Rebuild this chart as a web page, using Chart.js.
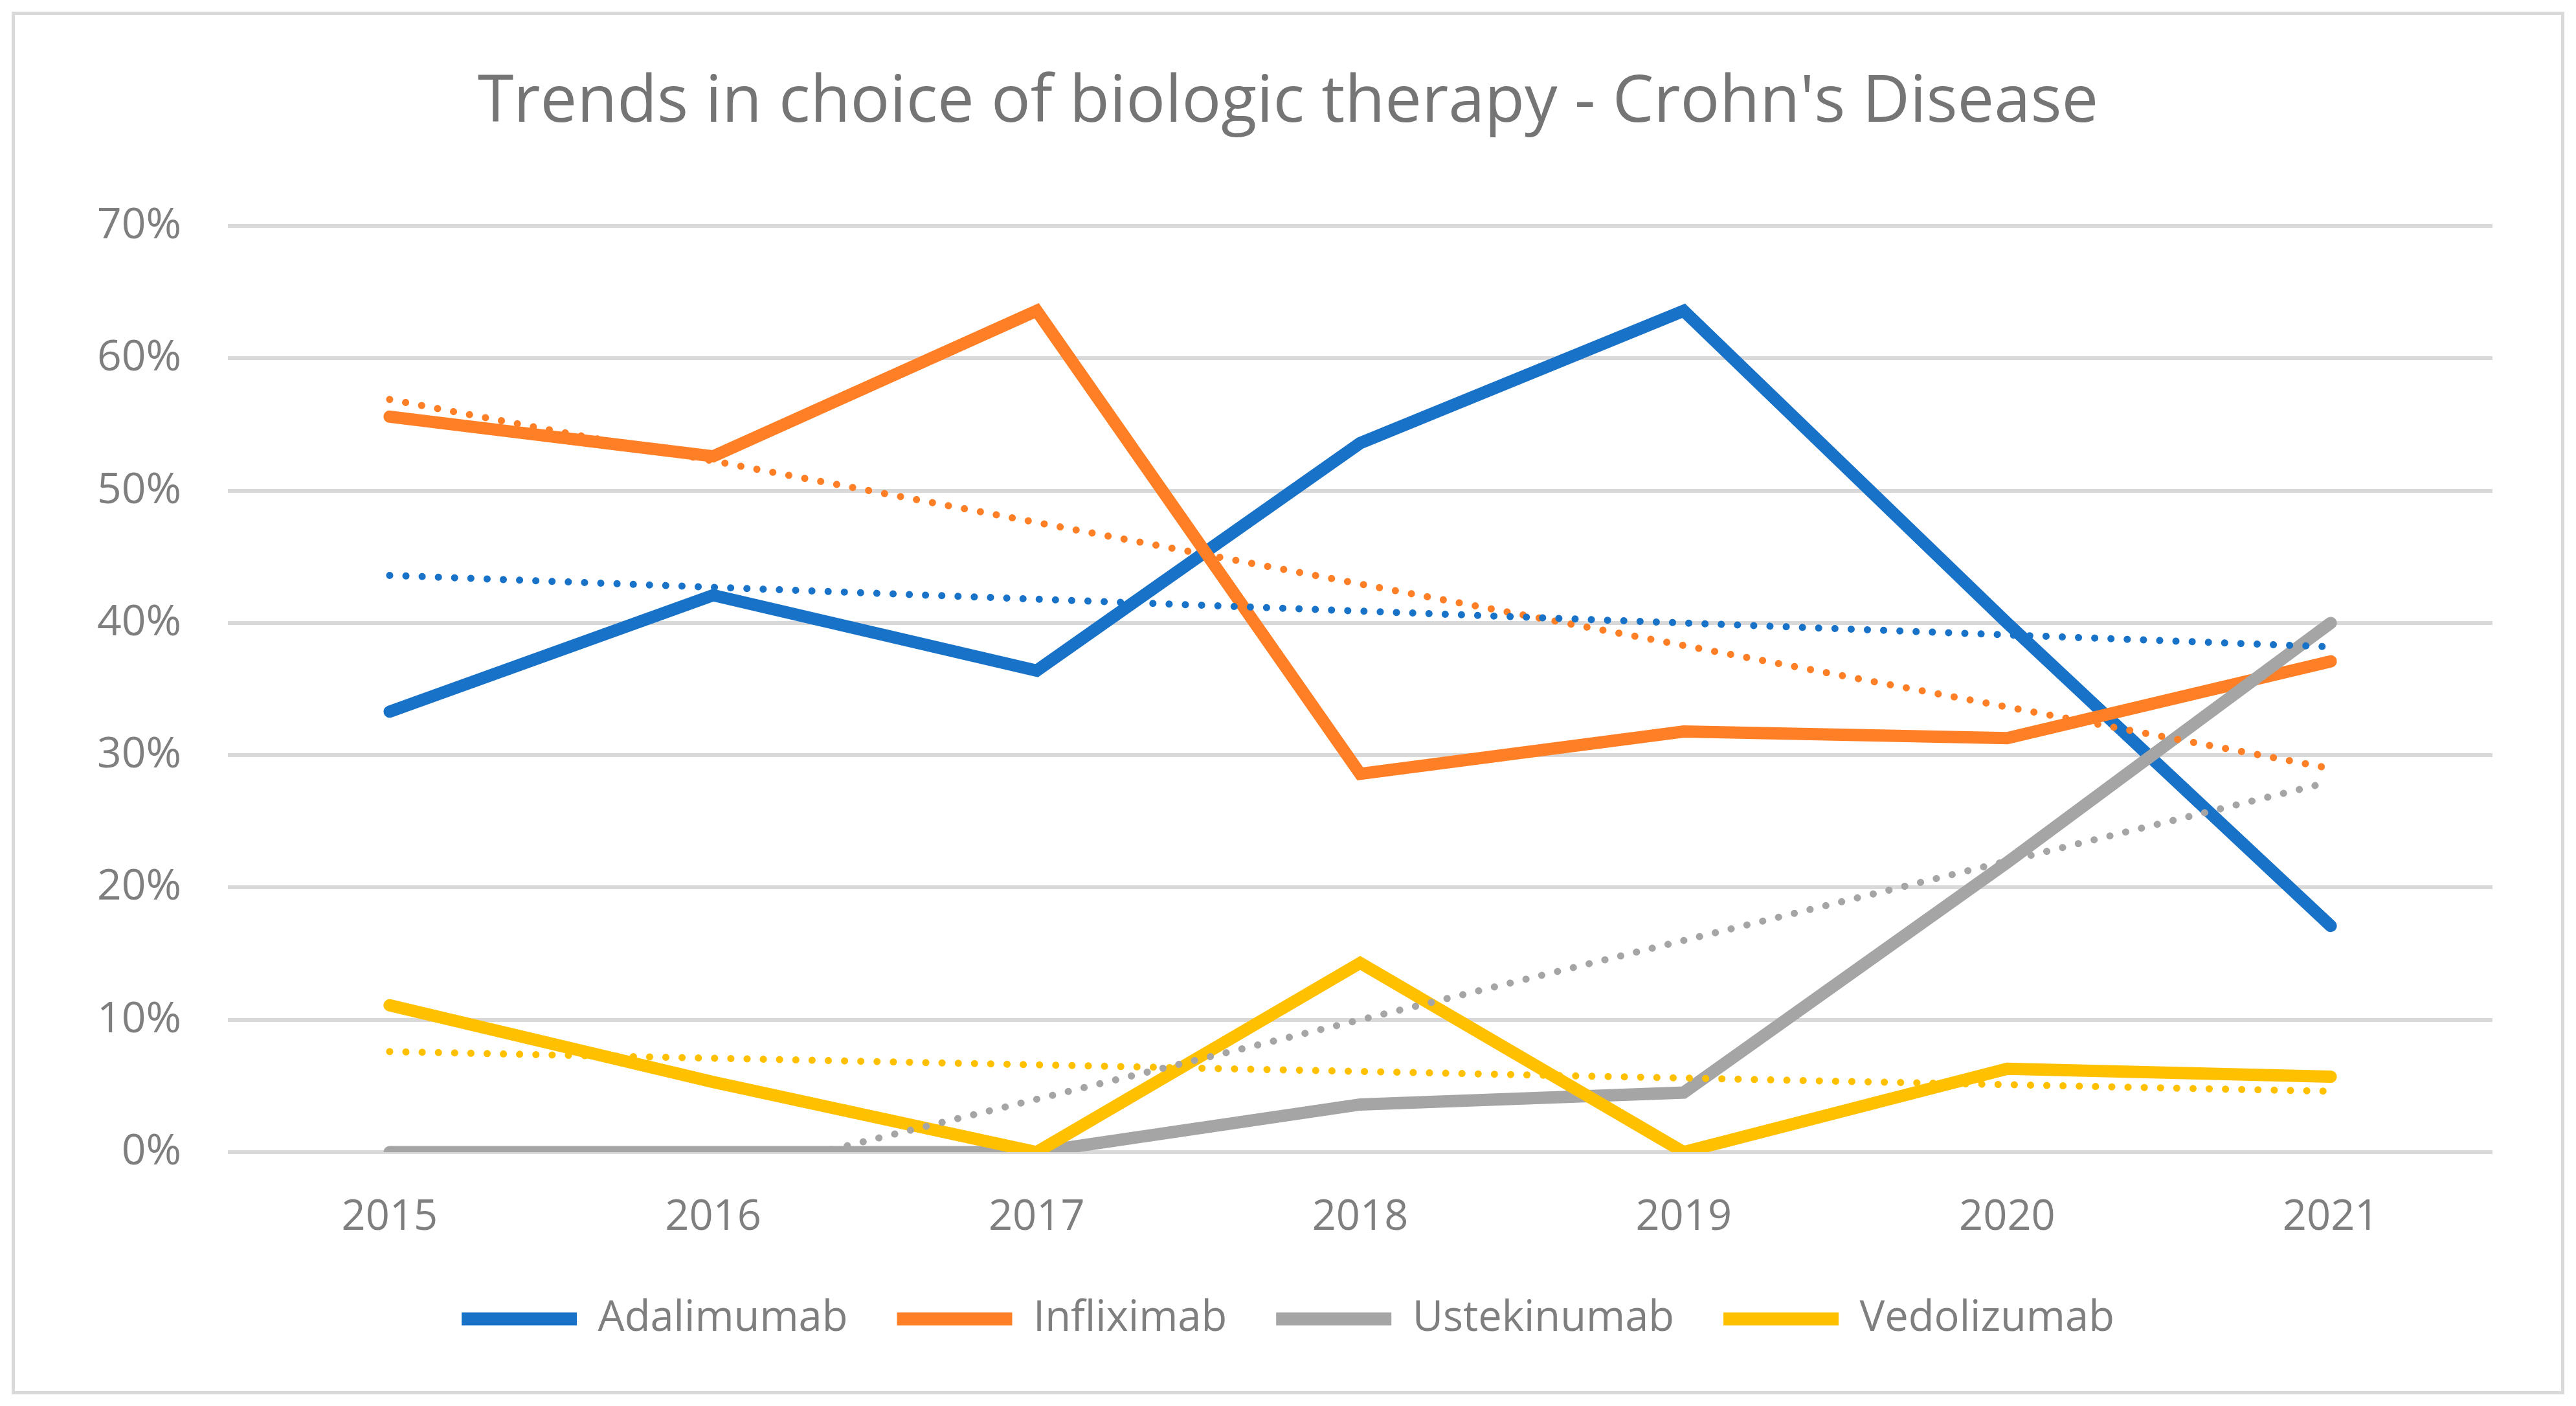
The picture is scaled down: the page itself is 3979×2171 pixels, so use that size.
<!DOCTYPE html>
<html>
<head>
<meta charset="utf-8">
<script src="https://cdn.jsdelivr.net/npm/chart.js@4"></script>
<style>
  html, body { margin: 0; padding: 0; background: #fff; }
  #wrap { position: relative; width: 3979px; height: 2171px; }
  #frame { position: absolute; left: 18px; top: 18px; width: 3933px; height: 2125px; border: 5px solid #D9D9D9; }
  canvas { position: absolute; left: 0; top: 0; }
</style>
</head>
<body>
<div id="wrap">
  <div id="frame"></div>
  <canvas id="chart" width="3979" height="2171"></canvas>
</div>
<script>
// Data
const years = ['2015', '2016', '2017', '2018', '2019', '2020', '2021'];
const drugs = ['Adalimumab', 'Infliximab', 'Ustekinumab', 'Vedolizumab'];
const adalimumab = [33.3, 42.1, 36.4, 53.6, 63.6, 40.0, 17.1];
const infliximab = [55.6, 52.6, 63.6, 28.6, 31.8, 31.3, 37.1];
const ustekinumab = [0, 0, 0, 3.6, 4.5, 21.9, 40.0];
const vedolizumab = [11.1, 5.3, 0, 14.3, 0, 6.3, 5.7];

// Linear trendlines, value at 2015 and at 2021
const trendStart = [43.6, 56.9, -8.0, 7.6];
const trendEnd = [38.2, 29.0, 28.0, 4.6];

const colors = ['#1872C8', '#FE7F26', '#A5A5A5', '#FFC000'];
const series = [adalimumab, infliximab, ustekinumab, vedolizumab];

const datasets = [];

// Main series (later series drawn on top)
series.forEach((values, i) => {
  datasets.push({
    label: drugs[i],
    data: values,
    borderColor: colors[i],
    backgroundColor: colors[i],
    borderWidth: 19,
    borderCapStyle: 'round',
    borderJoinStyle: 'miter',
    pointRadius: 0,
    tension: 0,
    order: 4 - i
  });
});

// Dotted trendlines, only the two end points, gaps spanned
series.forEach((values, i) => {
  const trend = years.map(() => null);
  trend[0] = trendStart[i];
  trend[years.length - 1] = trendEnd[i];
  datasets.push({
    label: 'Linear (' + drugs[i] + ')',
    data: trend,
    spanGaps: true,
    borderColor: colors[i],
    borderWidth: 11,
    borderDash: [0.1, 25],
    borderCapStyle: 'round',
    pointRadius: 0,
    clip: 0,
    order: 0
  });
});

Chart.defaults.font.family = "'Open Sans', sans-serif";
Chart.defaults.color = '#7F7F7F';

new Chart(document.getElementById('chart').getContext('2d'), {
  type: 'line',
  data: { labels: years, datasets: datasets },
  options: {
    responsive: false,
    animation: false,
    devicePixelRatio: 1,
    layout: { padding: { left: 129, right: 129, top: 20, bottom: 92 } },
    plugins: {
      tooltip: { enabled: false },
      title: {
        display: true,
        text: "Trends in choice of biologic therapy - Crohn's Disease",
        color: '#757575',
        font: { size: 101, weight: 'normal' },
        padding: { top: 79, bottom: 129 }
      },
      legend: {
        position: 'bottom',
        labels: {
          boxWidth: 178,
          boxHeight: 20,
          useBorderRadius: true,
          borderRadius: 10,
          padding: 76,
          color: '#7F7F7F',
          font: { size: 65 },
          generateLabels: chart => drugs.map((name, i) => ({
            text: name,
            fillStyle: colors[i],
            strokeStyle: colors[i],
            lineWidth: 0,
            fontColor: '#7F7F7F',
            datasetIndex: i
          }))
        }
      }
    },
    scales: {
      x: {
        offset: true,
        grid: { display: false, drawTicks: false },
        border: { display: false },
        ticks: { font: { size: 65 }, color: '#7F7F7F', padding: 62 },
        afterFit: scale => { scale.height -= 53; }
      },
      y: {
        min: 0,
        max: 70,
        ticks: {
          stepSize: 10,
          font: { size: 66 },
          color: '#7F7F7F',
          padding: 72,
          callback: v => v + '%'
        },
        grid: { color: '#D9D9D9', lineWidth: 6, drawTicks: false },
        border: { display: false },
        afterFit: scale => { scale.width = 223; }
      }
    }
  }
});
</script>
</body>
</html>
